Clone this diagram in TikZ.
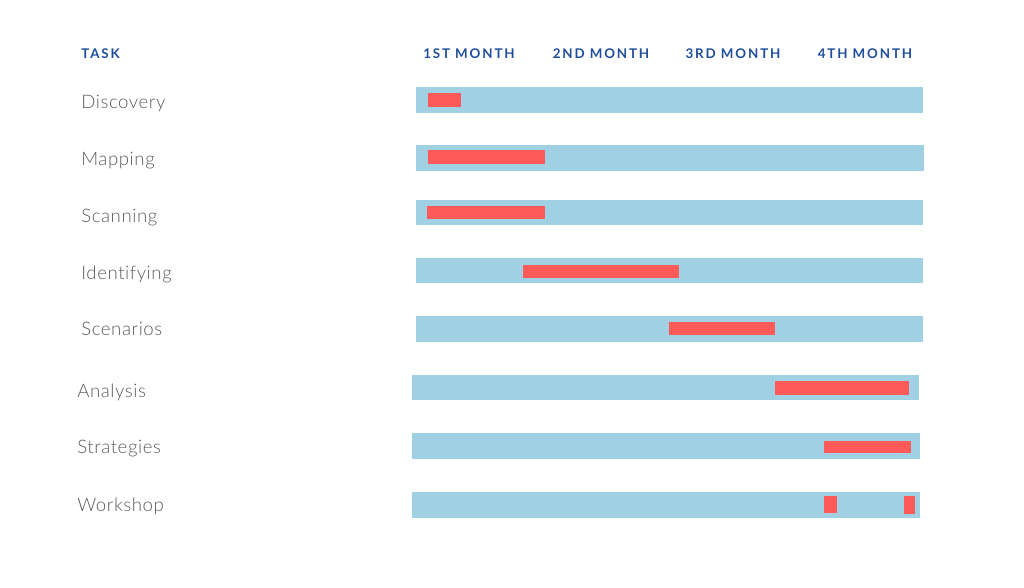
\documentclass[tikz,border=0pt]{standalone}
\usepackage{fontspec}
\setmainfont{Lato}
\newfontfamily\headfont[LetterSpace=14]{Lato}
\newfontfamily\taskfont[LetterSpace=3, Ligatures=NoCommon]{Lato Light}
\definecolor{trackblue}{HTML}{A0D1E2}
\definecolor{spanred}{HTML}{FF5A5A}
\definecolor{headblue}{HTML}{1F4E9C}
\definecolor{labelgray}{HTML}{5A5C5C}
\tikzstyle{task} = [anchor=base west, inner sep=0pt, text=labelgray, font=\taskfont\fontsize{10.6pt}{12pt}\selectfont]
\tikzstyle{head} = [anchor=base, inner sep=0pt, text=headblue, font=\headfont\bfseries\fontsize{7.6pt}{9pt}\selectfont]
\tikzstyle{track} = [fill=trackblue]
\tikzstyle{span} = [fill=spanred]

\begin{document}
\begin{tikzpicture}[x=0.02cm, y=-0.02cm]
    \useasboundingbox (0,0) rectangle (1024,588);
    % Header
    \node (htask) [head, anchor=base west] at (81,59) {TASK};
    \node (hm1) [head] at (469,58.5) {1ST MONTH};
    \node (hm2) [head] at (601,58.5) {2ND MONTH};
    \node (hm3) [head] at (733,58.5) {3RD MONTH};
    \node (hm4) [head] at (865,58.5) {4TH MONTH};

    % Task labels
    \node (tdisc) [task] at (81,108.5) {Discovery};
    \node (tmap) [task] at (81,165.5) {Mapping};
    \node (tscan) [task] at (81,222.5) {Scanning};
    \node (tident) [task] at (81,279.5) {Identifying};
    \node (tscen) [task] at (81,335.5) {Scenarios};
    \node (tanal) [task] at (77,397.5) {Analysis};
    \node (tstrat) [task] at (77,453.5) {Strategies};
    \node (twork) [task] at (77,511) {Workshop};

    % Tracks
    \fill [track] (416,87) rectangle (923,113);
    \fill [track] (416,145) rectangle (924,171);
    \fill [track] (416,200) rectangle (923,225);
    \fill [track] (416,258) rectangle (923,283);
    \fill [track] (416,316) rectangle (923,342);
    \fill [track] (412,375) rectangle (919,400);
    \fill [track] (412,433) rectangle (920,459);
    \fill [track] (412,492) rectangle (920,518);

    % Spans
    \fill [span] (428,93) rectangle (461,107);
    \fill [span] (428,150) rectangle (545,164);
    \fill [span] (427,206) rectangle (545,219);
    \fill [span] (523,265) rectangle (679,278);
    \fill [span] (669,322) rectangle (775,335);
    \fill [span] (775,381) rectangle (909,395);
    \fill [span] (824,441) rectangle (911,453);
    \fill [span] (824,496) rectangle (837,513);
    \fill [span] (904,496) rectangle (915,514);
\end{tikzpicture}
\end{document}
